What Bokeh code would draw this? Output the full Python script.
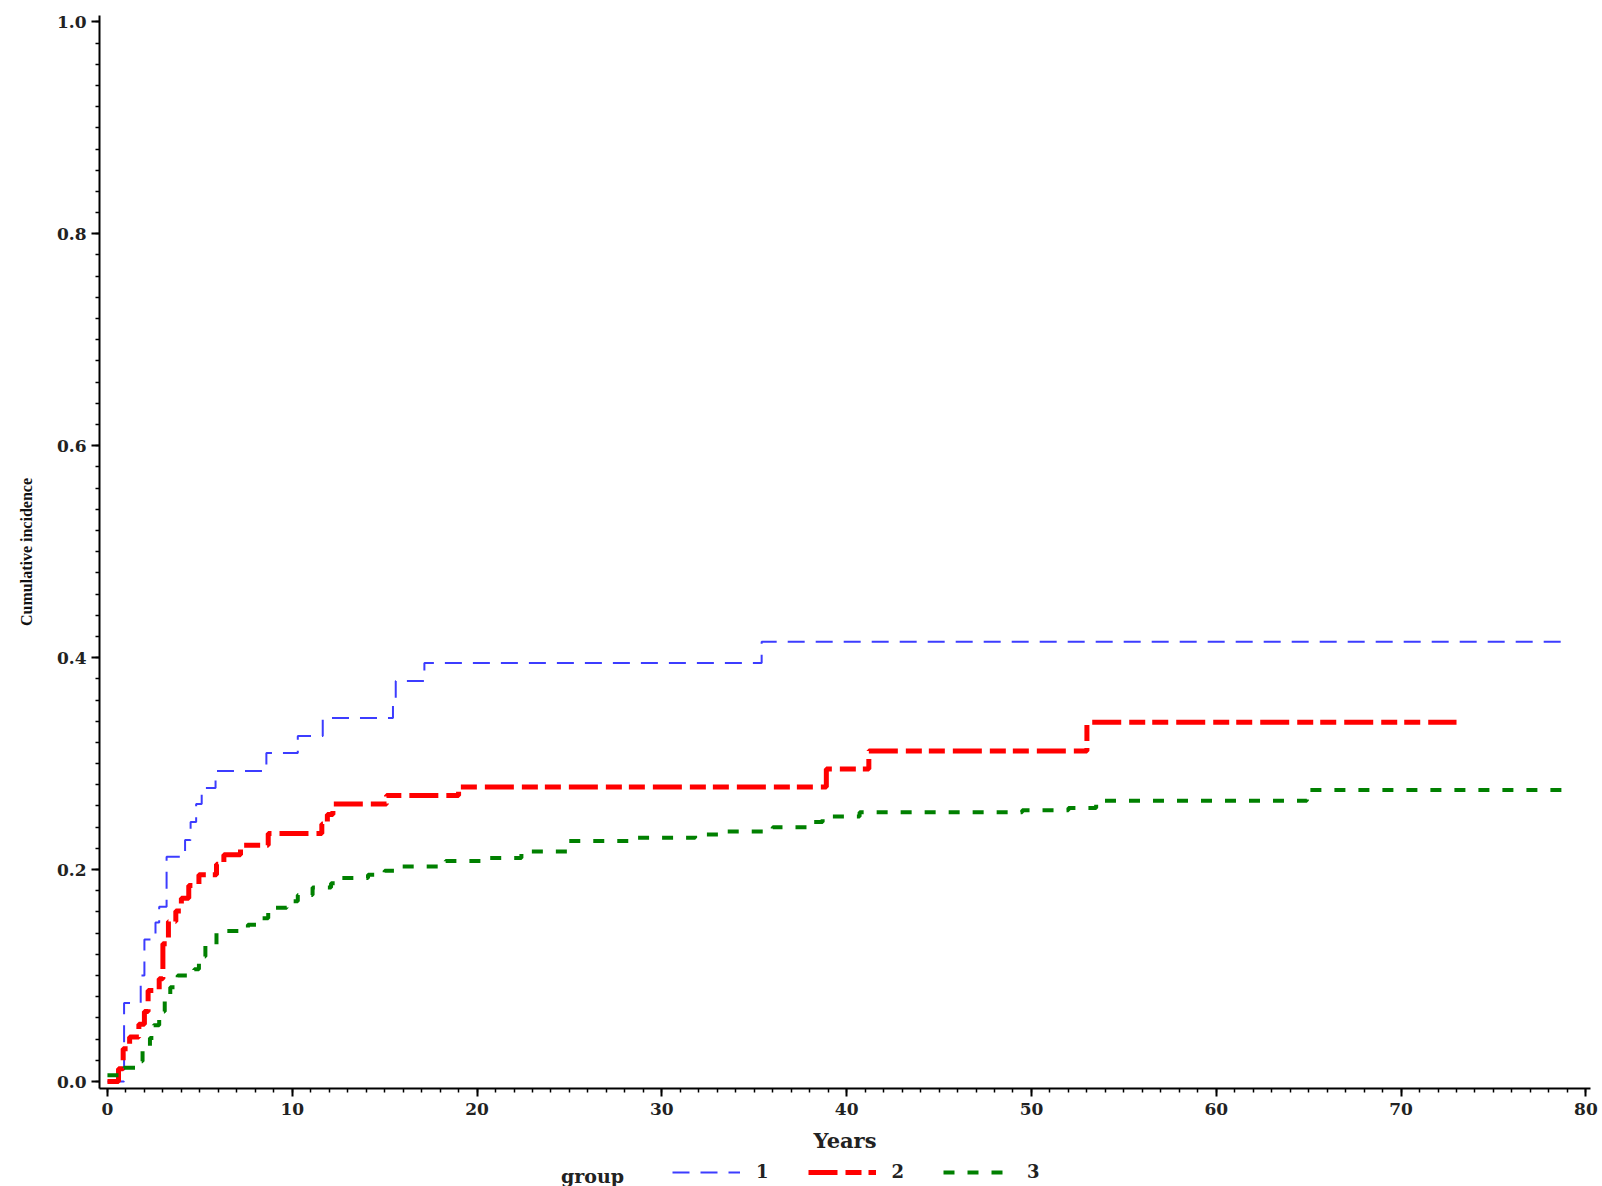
from bokeh.plotting import figure
from bokeh.layouts import column
from bokeh.models import (Range1d, SingleIntervalTicker, NumeralTickFormatter,
                          Legend, LegendItem, Label)
from bokeh.embed import file_html
from bokeh.resources import INLINE

# ---- data ----
group_labels = ["1", "2", "3"]

times1 = [0, 0.9, 1.8, 2.0, 2.6, 2.8, 3.2, 4.2, 4.5, 4.8, 5.1, 5.85, 8.6,
          10.3, 11.65, 15.45, 15.6, 17.15, 35.4, 78.8]
cif1 = [0, 0.074, 0.10, 0.134, 0.15, 0.165, 0.212, 0.228, 0.245, 0.262, 0.277,
        0.293, 0.31, 0.326, 0.343, 0.362, 0.378, 0.395, 0.415, 0.415]

times2 = [0, 0.6, 0.85, 1.2, 1.7, 2.0, 2.2, 2.8, 3.0, 3.3, 3.7, 4.0, 4.4, 4.95,
          5.9, 6.3, 7.2, 8.7, 11.6, 11.9, 12.2, 15.1, 19.0, 38.9, 41.2, 53.0, 73.0]
cif2 = [0, 0.012, 0.031, 0.042, 0.054, 0.066, 0.086, 0.097, 0.130, 0.151, 0.161,
        0.173, 0.185, 0.195, 0.205, 0.214, 0.223, 0.234, 0.243, 0.252, 0.262,
        0.270, 0.278, 0.295, 0.312, 0.339, 0.339]

times3 = [0, 0.9, 1.5, 1.9, 2.3, 2.5, 2.8, 3.1, 3.4, 3.8, 4.7, 4.95, 5.3, 5.9,
          7.6, 8.3, 8.7, 9.7, 10.3, 11.1, 12.1, 12.6, 14.1, 15.0, 15.9, 18.3,
          20.2, 22.4, 24.9, 28.5, 31.8, 33.5, 36.0, 38.0, 38.7, 40.7, 49.5, 52.0,
          53.5, 64.9, 78.8]
cif3 = [0.006, 0.013, 0.019, 0.030, 0.041, 0.053, 0.066, 0.076, 0.089, 0.100,
        0.106, 0.118, 0.129, 0.142, 0.148, 0.154, 0.164, 0.170, 0.176, 0.183,
        0.187, 0.192, 0.195, 0.199, 0.203, 0.208, 0.211, 0.217, 0.227, 0.230,
        0.233, 0.236, 0.240, 0.245, 0.250, 0.254, 0.256, 0.258, 0.265, 0.275,
        0.275]

x_label = "Years"
y_label = "Cumulative incidence"
legend_title = "group"

# ---- styles ----
TICK_FONT = "DejaVu Serif"
styles = [dict(line_color="#3c3cff", line_width=2, line_dash="17 11"),
          dict(line_color="#ff0000", line_width=5, line_dash="29 8 16 7 16 8"),
          dict(line_color="#008000", line_width=4, line_dash="11 13")]
series = [(times1, cif1), (times2, cif2), (times3, cif3)]

# ---- main figure ----
p = figure(width=1598, height=1160, output_backend="svg", toolbar_location=None,
           x_range=Range1d(-0.43, 80.25), y_range=Range1d(-0.0066, 1.006),
           min_border_left=99, min_border_right=8, min_border_top=15,
           min_border_bottom=72)
p.outline_line_color = None
p.xgrid.visible = False
p.ygrid.visible = False
p.background_fill_color = "white"

for (t, c), s in zip(series, styles):
    p.step(t, c, mode="after", **s)

for ax in (p.xaxis[0], p.yaxis[0]):
    ax.axis_line_width = 2
    ax.axis_line_color = "black"
    ax.major_tick_line_width = 2
    ax.minor_tick_line_width = 1.5
    ax.major_tick_out = 8
    ax.major_tick_in = 0
    ax.minor_tick_out = 4
    ax.minor_tick_in = 0
    ax.major_label_text_font = TICK_FONT
    ax.major_label_text_font_style = "bold"
    ax.major_label_text_font_size = "17px"
    ax.major_label_text_color = "#222222"

p.xaxis[0].ticker = SingleIntervalTicker(interval=10, num_minor_ticks=10)
p.yaxis[0].ticker = SingleIntervalTicker(interval=0.2, num_minor_ticks=10)
p.yaxis[0].formatter = NumeralTickFormatter(format="0.0")

p.xaxis[0].major_label_standoff = 6
p.yaxis[0].major_label_standoff = 5

p.xaxis[0].axis_label = x_label
p.xaxis[0].axis_label_text_font = TICK_FONT
p.xaxis[0].axis_label_text_font_style = "bold"
p.xaxis[0].axis_label_text_font_size = "21px"
p.xaxis[0].axis_label_text_color = "#222222"
p.xaxis[0].axis_label_standoff = 10

p.yaxis[0].axis_label = y_label
p.yaxis[0].axis_label_text_font = "Liberation Serif"
p.yaxis[0].axis_label_text_font_style = "bold"
p.yaxis[0].axis_label_text_font_size = "16px"
p.yaxis[0].axis_label_text_color = "#111111"
p.yaxis[0].axis_label_standoff = 19

# ---- legend strip: same series and styles, ranges chosen so that only the
# legend is visible in this strip ----
q = figure(width=1598, height=26, output_backend="svg", toolbar_location=None,
           x_axis_type=None, y_axis_type=None, min_border=0,
           x_range=Range1d(-0.43, 80.25), y_range=Range1d(2, 3))
q.outline_line_color = None
q.xgrid.visible = False
q.ygrid.visible = False
lr = [q.step(t, c, mode="after", **s) for (t, c), s in zip(series, styles)]

legend = Legend(
    items=[LegendItem(label=lab, renderers=[r]) for lab, r in zip(group_labels, lr)],
    orientation="horizontal", location=(573, 4),
    glyph_width=68, glyph_height=20, label_width=1, label_height=20,
    label_standoff=16, spacing=39, padding=0, margin=0,
    border_line_alpha=0, background_fill_alpha=0,
    label_text_font=TICK_FONT, label_text_font_style="bold",
    label_text_font_size="18px", label_text_color="#222222",
)
q.add_layout(legend)
q.add_layout(Label(x=493, y=11, x_units="screen", y_units="screen",
                   text=legend_title, text_align="center", text_baseline="middle",
                   text_font=TICK_FONT, text_font_style="bold",
                   text_font_size="19px", text_color="#222222"))

layout = column(p, q, spacing=0)
open("out.html", "w").write(file_html(layout, INLINE))
